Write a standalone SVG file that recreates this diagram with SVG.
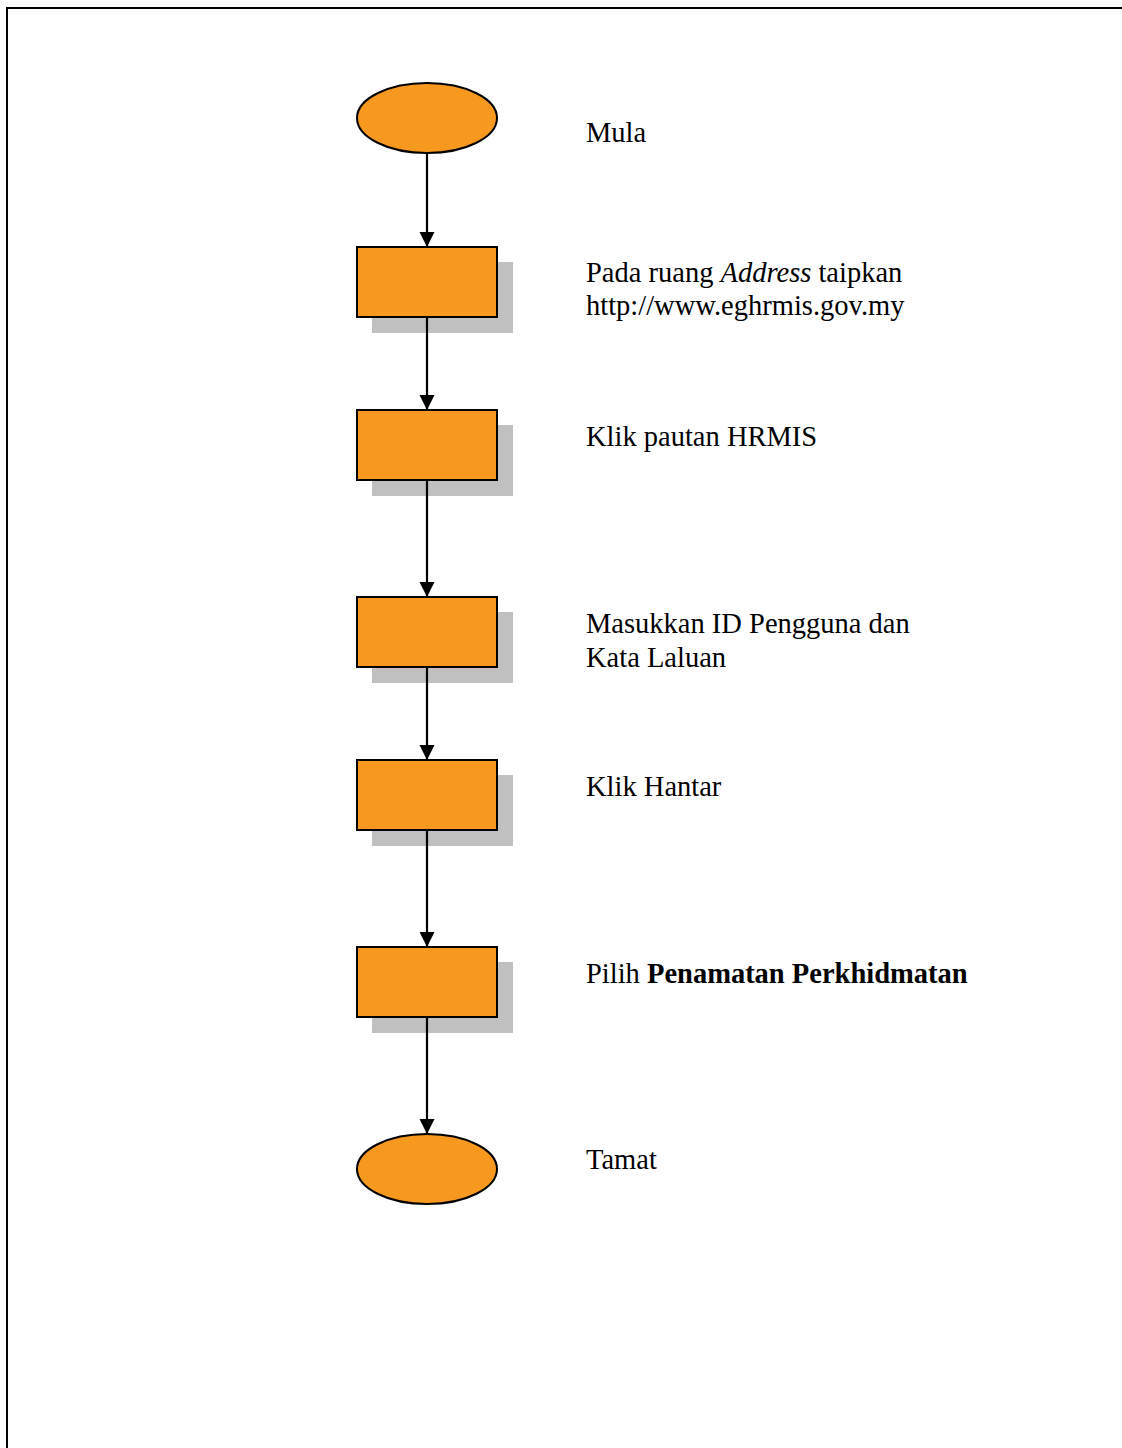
<svg xmlns="http://www.w3.org/2000/svg" width="1122" height="1448" viewBox="0 0 1122 1448">
  <style>
    .term { fill: #F8991F; stroke: #000; stroke-width: 2; }
    .step { fill: #F8991F; stroke: #000; stroke-width: 2; }
    .shadow { fill: #C0C0C0; stroke: none; }
    .flow { stroke: #000; stroke-width: 2.2; fill: none; marker-end: url(#arrow); }
    .label { font-family: "Liberation Serif", "Times New Roman", serif; font-size: 28.5px; fill: #000; }
  </style>
  <defs>
    <marker id="arrow" markerUnits="userSpaceOnUse" markerWidth="16" markerHeight="16" viewBox="0 0 16 16" refX="15" refY="8" orient="auto">
      <path d="M0,0.5 L15,8 L0,15.5 Z" fill="#000"/>
    </marker>
  </defs>

  <rect width="1122" height="1448" fill="#fff"/>
  <!-- page frame -->
  <path d="M7,1448 V8 H1122" fill="none" stroke="#000" stroke-width="2"/>

  <g id="start">
    <ellipse class="term" cx="427" cy="118" rx="70" ry="35"/>
    <text class="label" x="586" y="142">Mula</text>
  </g>

  <g id="step-address">
    <rect class="shadow" x="372" y="262" width="141" height="71"/>
    <rect class="step" x="357" y="247" width="140" height="70"/>
    <text class="label" x="586" y="282">Pada ruang <tspan font-style="italic">Address</tspan> taipkan</text>
    <text class="label" x="586" y="315">http://www.eghrmis.gov.my</text>
  </g>

  <g id="step-hrmis">
    <rect class="shadow" x="372" y="425" width="141" height="71"/>
    <rect class="step" x="357" y="410" width="140" height="70"/>
    <text class="label" x="586" y="446">Klik pautan HRMIS</text>
  </g>

  <g id="step-login">
    <rect class="shadow" x="372" y="612" width="141" height="71"/>
    <rect class="step" x="357" y="597" width="140" height="70"/>
    <text class="label" x="586" y="633">Masukkan ID Pengguna dan</text>
    <text class="label" x="586" y="667">Kata Laluan</text>
  </g>

  <g id="step-submit">
    <rect class="shadow" x="372" y="775" width="141" height="71"/>
    <rect class="step" x="357" y="760" width="140" height="70"/>
    <text class="label" x="586" y="796">Klik Hantar</text>
  </g>

  <g id="step-select">
    <rect class="shadow" x="372" y="962" width="141" height="71"/>
    <rect class="step" x="357" y="947" width="140" height="70"/>
    <text class="label" x="586" y="983">Pilih <tspan font-weight="bold">Penamatan Perkhidmatan</tspan></text>
  </g>

  <g id="end">
    <ellipse class="term" cx="427" cy="1169" rx="70" ry="35"/>
    <text class="label" x="586" y="1169">Tamat</text>
  </g>

  <!-- connectors, drawn above the drop shadows -->
  <g id="connectors">
    <line class="flow" x1="427" y1="153" x2="427" y2="247"/>
    <line class="flow" x1="427" y1="318" x2="427" y2="410"/>
    <line class="flow" x1="427" y1="481" x2="427" y2="597"/>
    <line class="flow" x1="427" y1="668" x2="427" y2="760"/>
    <line class="flow" x1="427" y1="831" x2="427" y2="947"/>
    <line class="flow" x1="427" y1="1018" x2="427" y2="1134"/>
  </g>
</svg>
